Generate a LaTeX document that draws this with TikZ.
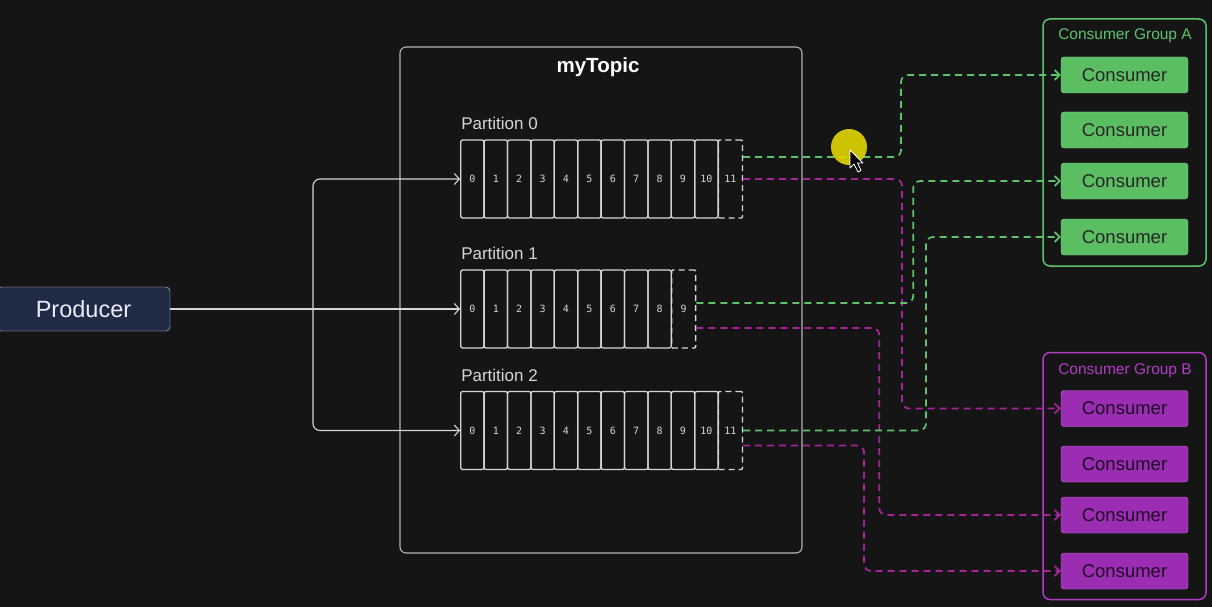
\documentclass[tikz,border=0pt]{standalone}
\usepackage{fontspec}
\setmainfont{Liberation Sans}
\newfontfamily\cellfont{DejaVu Sans Mono}
\usetikzlibrary{arrows.meta}
\definecolor{bg}{HTML}{151515}
\definecolor{chalk}{HTML}{D6D6D6}
\definecolor{frame}{HTML}{B4B4B4}
\definecolor{navy}{HTML}{1F2A45}
\definecolor{grn}{HTML}{5CC46A}
\definecolor{grnfill}{HTML}{5BBE63}
\definecolor{mag}{HTML}{A8239B}
\definecolor{purp}{HTML}{B23CC6}
\definecolor{purpfill}{HTML}{9A2DB2}
\newcommand{\fs}[1]{\fontsize{#1}{#1}\selectfont}

\begin{document}
\begin{tikzpicture}[x=1pt,y=-1pt,
	cell/.style={draw=chalk,line width=1.3pt,rounded corners=2pt,minimum width=23.4pt,minimum height=78pt,inner sep=0pt,text=chalk,font=\cellfont\fs{10}},
	nextcell/.style={cell,dash pattern=on 6pt off 4pt,rounded corners=1pt,minimum width=24pt},
	plabel/.style={anchor=south west,inner sep=0pt,text=chalk,font=\fs{17}},
	flow/.style={draw=chalk,line width=1.1pt,rounded corners=7pt,-{Straight Barb[length=5pt,width=11pt]}},
	toA/.style={draw=grn,line width=1.7pt,dash pattern=on 7pt off 5pt,rounded corners=7pt,-{Straight Barb[length=5pt,width=10pt]}},
	toB/.style={toA,draw=mag},
	consA/.style={draw=grn!70!white,fill=grnfill,rounded corners=3pt,minimum width=127pt,minimum height=36pt,text=black!85,font=\fs{18.5}},
	consB/.style={consA,draw=purp!70!white,fill=purpfill,text=black!80!purpfill},
	group/.style={draw,line width=1.5pt,rounded corners=7pt,minimum width=163pt,minimum height=247pt}]
	\useasboundingbox (0,0) rectangle (1212,607);
	\fill[bg] (0,0) rectangle (1212,607);

	% producer
	\node[draw=chalk!70,fill=navy,rounded corners=4pt,minimum width=173pt,minimum height=44pt,text=white!92!blue,font=\fs{23.5}] (prod) at (83.5,309) {Producer};

	% topic
	\node[draw=frame,line width=1.1pt,rounded corners=6pt,minimum width=402pt,minimum height=506pt] (topic) at (601,300) {};
	\node[text=white,font=\bfseries\fs{20.5}] (title) at (598,67) {myTopic};

	% partitions
	\foreach \p/\n/\y in {0/11/179,1/9/309,2/11/430.5}{
		\pgfmathtruncatemacro\last{\n-1}
		\foreach \i in {0,...,\last}
			\node[cell] (p\p-\i) at ({472.4+23.4*\i},\y) {\i};
		\node[nextcell] (p\p-x) at ({461+23.4*\n+12},\y) {\n};
		\node[plabel] (lbl\p) at ([xshift=1pt,yshift=9pt]p\p-0.north west) {Partition \p};
	}

	% producer -> partitions
	\coordinate (split) at (313,309);
	\draw[flow,-] (prod.east) -- (split);
	\draw[flow] (split) |- (p0-0.west);
	\draw[flow] (split) -- (p1-0.west);
	\draw[flow] (split) |- (p2-0.west);

	% consumer groups
	\node[group,draw=grn] (grpA) at (1124.5,142.5) {};
	\node[text=grn,font=\fs{15.5}] at (1125,36) {Consumer Group A};
	\foreach \k/\y in {1/75,2/130,3/181,4/237}
		\node[consA] (A\k) at (1124.5,\y) {Consumer};

	\node[group,draw=purp] (grpB) at (1124.5,476) {};
	\node[text=purp,font=\fs{15.5}] at (1125,371) {Consumer Group B};
	\foreach \k/\y in {1/408.5,2/464,3/515,4/571}
		\node[consB] (B\k) at (1124.5,\y) {Consumer};

	% partitions -> consumers
	\draw[toA] ([yshift=22pt]p0-x.east) -- ++(158,0) |- (A1.west);
	\draw[toB] (p0-x.east) -- ++(159,0) |- (B1.west);
	\draw[toA] ([yshift=6pt]p1-x.east) -- ++(217,0) |- (A3.west);
	\draw[toB] ([yshift=-19pt]p1-x.east) -- ++(183,0) |- (B3.west);
	\draw[toA] (p2-x.east) -- ++(183,0) |- (A4.west);
	\draw[toB] ([yshift=-15pt]p2-x.east) -- ++(121,0) |- (B4.west);

	% pointer
	\fill[yellow!75!olive,opacity=0.9] (849,147) circle (18pt);
	\draw[white,fill=black,line width=0.8pt,line join=round] (850,150) -- (850,168) -- (854,164) -- (858,172) -- (861,170.5) -- (857.5,163) -- (863,163) -- cycle;
\end{tikzpicture}
\end{document}
